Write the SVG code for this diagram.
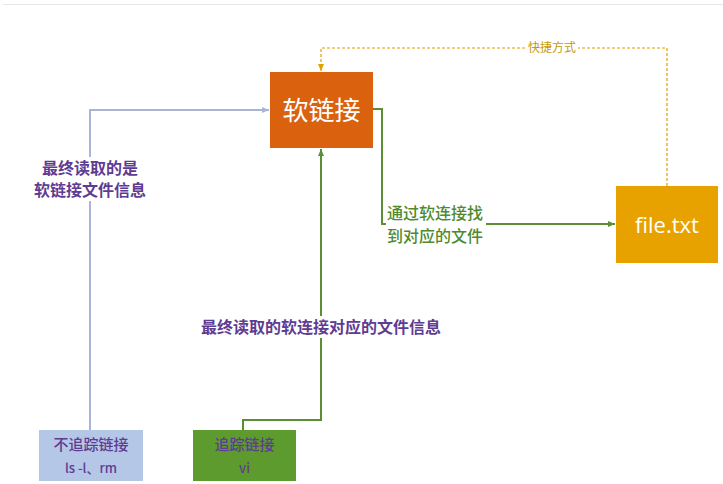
<svg xmlns="http://www.w3.org/2000/svg" width="723" height="484" viewBox="0 0 723 484">
<defs>
<style>
.cjk{font-family:"Noto Sans CJK SC","Noto Sans",sans-serif;}
.lbl{font-size:16px;font-weight:bold;fill:#5E3C92;}
.glbl{font-size:16px;font-weight:500;fill:#4E8A2E;}
.node-text{fill:#5E3C92;font-size:15px;font-weight:500;}
.node-sub{fill:#5E3C92;font-size:13px;font-weight:500;}
</style>
<marker id="ab" markerWidth="8" markerHeight="8" refX="7" refY="4" orient="auto" markerUnits="userSpaceOnUse"><path d="M0,1 L7,4 L0,7 Z" fill="#A9B4D6"/></marker>
<marker id="ag" markerWidth="8" markerHeight="8" refX="7" refY="4" orient="auto" markerUnits="userSpaceOnUse"><path d="M0,1 L7,4 L0,7 Z" fill="#5A8F34"/></marker>
<marker id="ay" markerWidth="8" markerHeight="8" refX="7" refY="4" orient="auto" markerUnits="userSpaceOnUse"><path d="M0,1 L7,4 L0,7 Z" fill="#E0A000"/></marker>
</defs>
<rect width="723" height="484" fill="#FFFFFF"/>
<line x1="3" y1="4.5" x2="723" y2="4.5" stroke="#E6E6E6" stroke-width="1.2"/>
<g id="connectors" fill="none">
<path d="M667,186 V48 H321 V71" stroke="#E0A000" stroke-width="1.2" stroke-dasharray="3,2" marker-end="url(#ay)"/>
<path d="M90,430 V110 H269" stroke="#A9B4D6" stroke-width="2" marker-end="url(#ab)"/>
<path d="M243,430 V420 H321 V149" stroke="#5A8F34" stroke-width="2" marker-end="url(#ag)"/>
<path d="M373,109 H382 V224 H615" stroke="#5A8F34" stroke-width="2" marker-end="url(#ag)"/>
</g>
<g id="label-shortcut">
<rect x="526" y="40" width="52" height="16" fill="#FFFFFF"/>
<text class="cjk" x="552" y="52" text-anchor="middle" font-size="12" fill="#C99700">快捷方式</text>
</g>
<g id="label-left">
<rect x="32" y="157" width="116" height="44" fill="#FFFFFF"/>
<text class="cjk lbl" x="90" y="174" text-anchor="middle">最终读取的是</text>
<text class="cjk lbl" x="90" y="196" text-anchor="middle">软链接文件信息</text>
</g>
<g id="label-mid">
<rect x="196" y="316" width="250" height="22" fill="#FFFFFF"/>
<text class="cjk lbl" x="321" y="333" text-anchor="middle">最终读取的软连接对应的文件信息</text>
</g>
<g id="label-right">
<rect x="386" y="200" width="100" height="48" fill="#FFFFFF"/>
<text class="cjk glbl" x="387" y="219">通过软连接找</text>
<text class="cjk glbl" x="387" y="242">到对应的文件</text>
</g>
<g id="node-softlink">
<rect x="270" y="72" width="103" height="76" fill="#DA620F"/>
<text class="cjk" x="321.5" y="120" text-anchor="middle" font-size="26" fill="#FFFFFF">软链接</text>
</g>
<g id="node-file">
<rect x="616" y="186" width="102" height="77" fill="#E8A200"/>
<text x="667" y="233" text-anchor="middle" font-family="'Open Sans','Noto Sans',sans-serif" font-size="22" fill="#FFFFFF">file.txt</text>
</g>
<g id="node-notrack">
<rect x="39" y="430" width="104" height="51" fill="#B4C7E7"/>
<text class="cjk node-text" x="91" y="450" text-anchor="middle">不追踪链接</text>
<text class="cjk node-sub" x="91" y="473" text-anchor="middle">ls -l、rm</text>
</g>
<g id="node-track">
<rect x="193" y="430" width="103" height="51" fill="#5E9B2E"/>
<text class="cjk node-text" x="244.5" y="450" text-anchor="middle">追踪链接</text>
<text class="cjk node-sub" x="244.5" y="473" text-anchor="middle">vi</text>
</g>
</svg>
